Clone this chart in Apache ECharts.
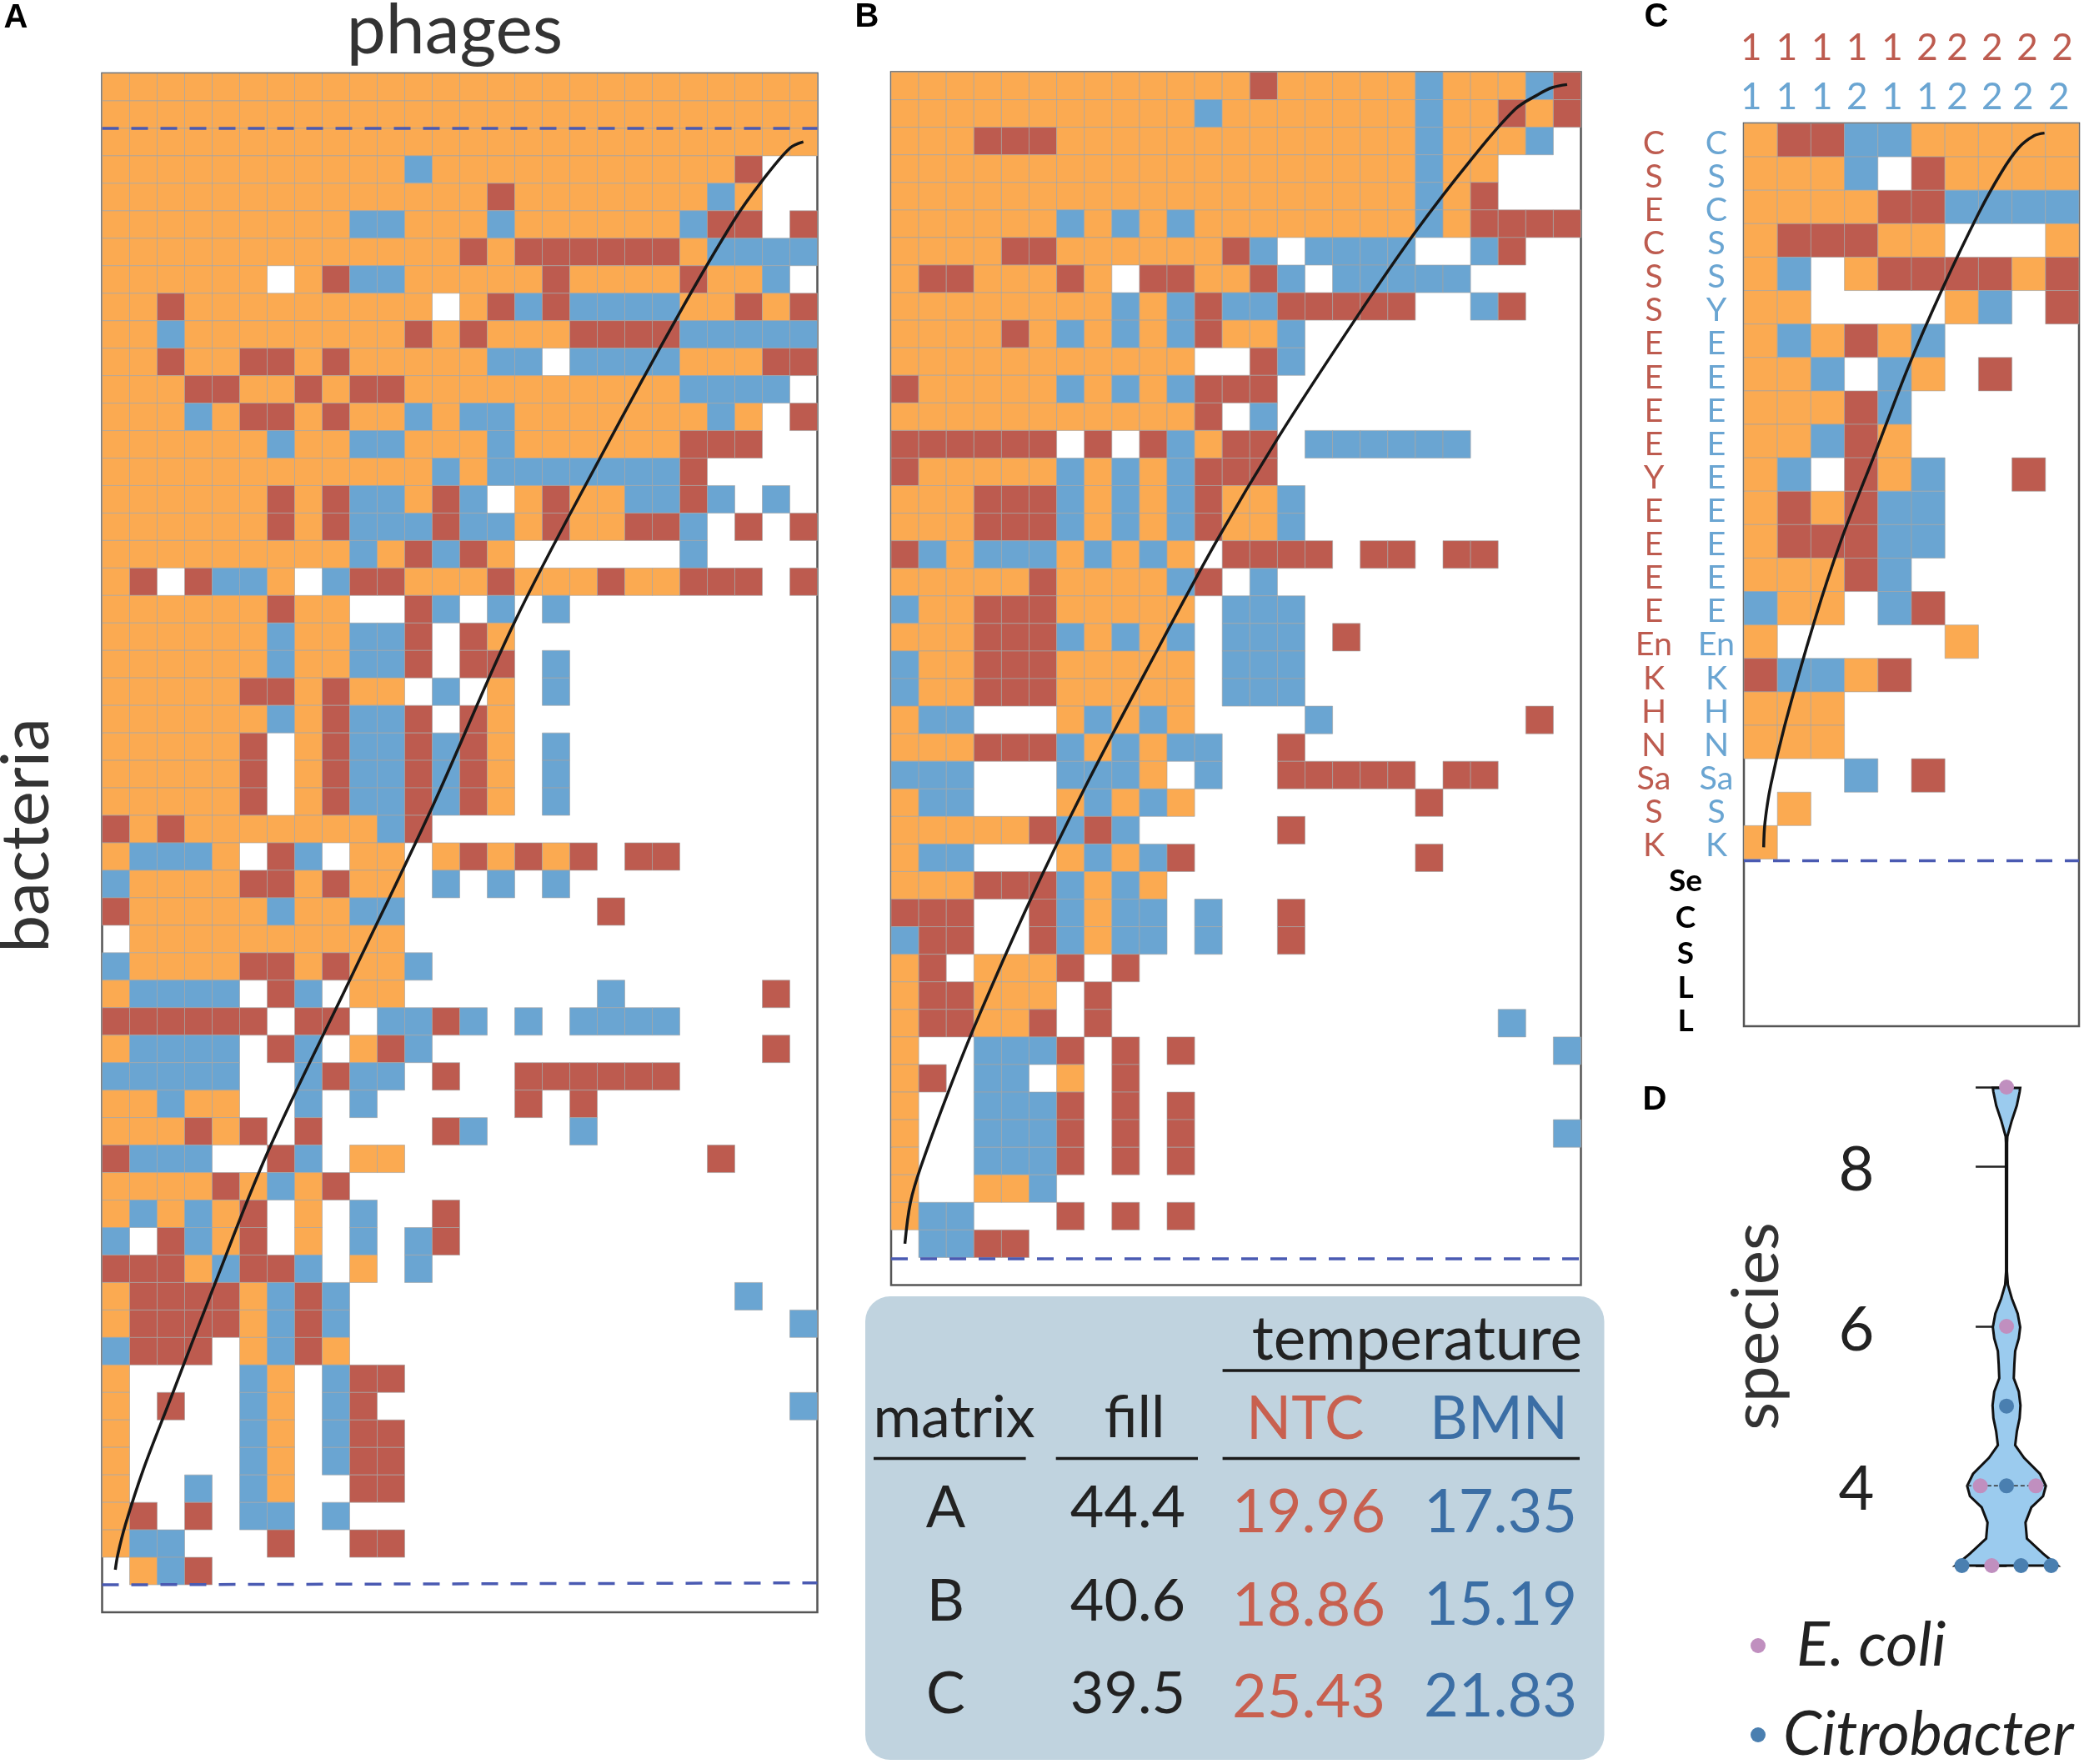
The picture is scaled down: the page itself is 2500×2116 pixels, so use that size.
<!DOCTYPE html>
<html><head><meta charset="utf-8">
<style>html,body{margin:0;padding:0;background:#fff}#c{width:2500px;height:2116px}</style>
<script src="https://cdn.jsdelivr.net/npm/echarts@6/dist/echarts.min.js"></script>
</head><body><div id="c"></div>
<script>
// Cell codes: O orange, R red, B blue, . empty
const matrixA = [
"OOOOOOOOOOOOOOOOOOOOOOOOOO",
"OOOOOOOOOOOOOOOOOOOOOOOOOO",
"OOOOOOOOOOOOOOOOOOOOOOOOOO",
"OOOOOOOOOOOBOOOOOOOOOOOR..",
"OOOOOOOOOOOOOOROOOOOOOBO..",
"OOOOOOOOOBBOOOBOOOOOOBRR.R",
"OOOOOOOOOOOOORORRRRRROBBBB",
"OOOOOO.ORBBOOOOOROOOOROOB.",
"OOROOOOOOOOO.ORBRBBBBOOROR",
"OOBOOOOOOOOROROOORRRRBBBBB",
"OOROORROROOOOOBB.BBBBOOORR",
"OOORROORORROOOOOOOOOOBBBB.",
"OOOBORROROOBOBBOOOOOOOBO.R",
"OOOOOOBOOBBOOOBOOOOOORRR..",
"OOOOOOOOOOOOBOBBBBBBBR....",
"OOOOOORORBBORB.OROOBBRB.B.",
"OOOOOORORBBBRBBOROORRB.R.R",
"OOOOOOOOOBORBRO......B....",
"OR.RBBO.BRROOOROOOROORRR.R",
"OOOOOOROO..RB.B.B.........",
"OOOOOOBOOBBR.RO...........",
"OOOOOOBOOBBR.RR.B.........",
"OOOOORROROO.B.O.B.........",
"OOOOOOBORBBR.RO...........",
"OOOOOR.ORBBRBRO.B.........",
"OOOOOR.ORBBRBRO.B.........",
"OOOOOR.ORBBRBRO.B.........",
"ROROOOOOOOBR..............",
"OBBBO.RB.OO.OROROR.RR.....",
"BOOOORROROO.B.B.B.........",
"ROOOOOBOOBB.......R.......",
".OOOOOOOOOO...............",
"BOOOORROROOB..............",
"OBBBB.RB.OO.......B.....R.",
"RRRRRR.RR.BBRB.B.BBBB.....",
"OBBBB.RB.ORB............R.",
"BBBBB..BRBB.R..RRRRRR.....",
"OOBOO..B.B.....R.R........",
"OOOROR.R....RB...B........",
"RBBB..RB.OO...........R...",
"OOOOROBOR.................",
"OBOBOR.O.B..R.............",
"B.RBOR.O.B.BR.............",
"RRROBRRB.O.B..............",
"ORRRROBRB..............B..",
"ORRRROBRB................B",
"BRRR.OBRO.................",
"O....BO.BRR...............",
"O.R..BO.BR...............B",
"O....BO.BRR...............",
"O....BO.BRR...............",
"O..B.BO..RR...............",
"OR.R.BB.B.................",
"OBB...R..RR...............",
".OBR......................"
];
const matrixB = [
"OOOOOOOOOOOOOROOOOOBOOOBR",
"OOOOOOOOOOOBOOOOOOOBOOROR",
"OOORRROOOOOOOOOOOOOBOOOB.",
"OOOOOOOOOOOOOOOOOOOBOO...",
"OOOOOOOOOOOOOOOOOOOBOR...",
"OOOOOOBOBOBOOOOOOOOBORRRR",
"OOOORROOOOOORB.BBBB..BR..",
"ORROOORO.RROORB.BBBBB....",
"OOOOOOOOBOBRBBRRRRR..BR..",
"OOOOROBOBOBROOB..........",
"OOOOOOOOOOO..RB..........",
"ROOOOOBOBOBRRR...........",
"OOOOOOOOOOOR.B...........",
"RRRRRR.R.RBORR.BBBBBB....",
"ROOOOOBOBOBRRR...........",
"OOORRRBOBOBROOB..........",
"OOORRRBOBOBROOB..........",
"RBOBBBOBOBO.RRRR.RR.RR...",
"OOOOOROOOOBR.B...........",
"BOORRROOOOO.BBB..........",
"OOORRRBOBOB.BBB.R........",
"BOORRROOOOO.BBB..........",
"BOORRROOOOO.BBB..........",
"OBB...OBOBO....B.......R.",
"OOORRRBOBOBB..R..........",
"BBB...BBBO.B..RRRRR.RR...",
"OBB...OBOBO........R.....",
"OOOOORBRB.....R..........",
"OBB...OBOBR........R.....",
"OOORRRBOBO...............",
"RRR..RBOBB.B..R..........",
"BRR..RBOBB.B..R..........",
"OR.OOOR.R................",
"ORROOO.R.................",
"ORROOR.R..............B..",
"O..BBBR.R.R.............B",
"OR.BB.O.R................",
"O..BBBR.R.R..............",
"O..BBBR.R.R.............B",
"O..BBBR.R.R..............",
"O..OOB...................",
"OBB...R.R.R..............",
".BBRR...................."
];
const matrixC = [
"ORRBBOOOOO","OOOB.ROOOO","OOOORRBBBB","ORRROO...O","OB.ORRRROR","OO....OB.R",
"OBOROB....","OOB.BO.R..","OOORB.....","OOBRO.....","OB.ROB..R.","ORORBB....",
"ORRRBB....","OOORB.....","BOO.BR....","O.....O...","RBBOR.....","OOO.......",
"OOO.......","...B.R....",".O........","O........."
];
// Black curves, as [column, row]
const curveA = [[25.49,2.49],[25,2.72],[24,3.9],[23,5.3],[21,8.7],[18.1,14],[15,19.95],[12,26.7],[9,33],[6,39.3],[4,44.3],[2.5,48.2],[1.5,50.8],[0.85,52.8],[0.57,53.9],[0.48,54.45]];
const curveB = [[24.5,0.45],[23.96,0.56],[23.47,0.8],[22.6,1.36],[21,3.2],[19,5.8],[16.8,9],[14,13.3],[11.8,17],[9.2,21.8],[7.05,25.9],[5.06,30],[3.07,34.5],[2.07,37],[1.08,39.7],[0.7,41],[0.5,42.5]];
const curveC = [[8.97,0.29],[8.66,0.37],[8.2,0.73],[7.68,1.47],[7,2.7],[5.9,5],[4.9,7.3],[3.94,9.8],[2.89,12.5],[2.1,14.9],[1.22,18],[0.8,19.8],[0.63,20.9],[0.59,21.65]];
const dashA1 = [[0,2],[26,2]];
const dashA2 = [[0,55],[26,54.93]];
const dashB = [[0,43.05],[25,43.05]];
const dashC = [[0,22.05],[10,22.05]];
// Panel C labels
const rowRed = ["C","S","E","C","S","S","E","E","E","E","Y","E","E","E","E","En","K","H","N","Sa","S","K"];
const rowBlue = ["C","S","C","S","S","Y","E","E","E","E","E","E","E","E","E","En","K","H","N","Sa","S","K"];
const rowBlack = ["Se","C","S","L","L"];
const colRed = ["1","1","1","1","1","2","2","2","2","2"];
const colBlue = ["1","1","1","2","1","1","2","2","2","2"];
// Violin (panel D)
const violinY = [3,3.15,3.34,3.54,3.73,3.87,4,4.15,4.35,4.51,4.68,4.85,5.01,5.18,5.35,5.52,5.69,5.85,5.99,6.16,6.35,6.52,6.69,8.3,8.38,8.58,8.77,8.94,8.99];
const violinHalf = [1.83,1.31,0.73,0.68,0.89,1.31,1.41,1.2,0.63,0.31,0.37,0.47,0.5,0.44,0.26,0.28,0.31,0.44,0.49,0.4,0.19,0.05,0.015,0.02,0.03,0.19,0.37,0.47,0.49];
const ecoliDots = [[0,9],[0,6],[-0.94,4],[1.05,4],[-0.53,3]];
const citroDots = [[0,5],[0,4],[-1.6,3],[0.52,3],[1.6,3]];
// Table
const tableMatrix = ["A","B","C"];
const tableFill = ["44.4","40.6","39.5"];
const tableNTC = ["19.96","18.86","25.43"];
const tableBMN = ["17.35","15.19","21.83"];

const FONT = 'Lato';
const cellColor = {O:'#fbaa51',R:'#bd5b4f',B:'#6aa5d2'};
const RED='#bd5b4f', BLUE='#6aa5d2';
const FRAME='#555555', DASH='#4a5ab2';

function cells(m){const out=[];m.forEach((row,r)=>{for(let c=0;c<row.length;c++){if(row[c]!=='.')out.push([c,r]);}});return out;}
function matrixSeries(m,i){return {type:'custom',xAxisIndex:i,yAxisIndex:i,clip:false,silent:true,z:2,
  encode:{x:0,y:1},
  data:cells(m),
  renderItem:(p,api)=>{const c=api.value(0),r=api.value(1);const a=api.coord([c,r]),b=api.coord([c+1,r+1]);
    const k=m[r][c];
    return {type:'rect',shape:{x:a[0],y:a[1],width:b[0]-a[0],height:b[1]-a[1]},
      style:{fill:cellColor[k],stroke:'rgba(165,165,165,0.65)',lineWidth:1}};}};}
function lineSeries(d,i,style,extra){return Object.assign({type:'line',xAxisIndex:i,yAxisIndex:i,data:d,showSymbol:false,symbol:'none',silent:true,clip:false,z:5,lineStyle:style},extra||{});}
const curveStyle={color:'#161616',width:3.5};
const dashStyle={color:DASH,width:3.5,type:[20,15]};
const hiddenAxis={axisLine:{show:false},axisTick:{show:false},axisLabel:{show:false},splitLine:{show:false}};
const gridBase={show:true,borderColor:FRAME,borderWidth:2.5,backgroundColor:'transparent',containLabel:false,outerBoundsMode:'none'};
const bigName={fontFamily:FONT,fontSize:78,color:'#333333',fontWeight:400};

const option={
 animation:false,backgroundColor:'#fff',
 grid:[
  Object.assign({left:122.5,top:88,width:858,height:1846},gridBase),
  Object.assign({left:1069,top:86.5,width:827.5,height:1455},gridBase),
  Object.assign({left:2092,top:148,width:402,height:1083},gridBase),
  {left:2281.5,top:1304,width:209.25,height:574,show:false,outerBoundsMode:'none'}
 ],
 xAxis:[
  Object.assign({type:'value',gridIndex:0,min:0,max:26,position:'top',name:'phages',nameLocation:'middle',nameGap:9,nameTextStyle:Object.assign({},bigName,{fontSize:84,padding:[0,12,0,0]})},hiddenAxis),
  Object.assign({type:'value',gridIndex:1,min:0,max:25},hiddenAxis),
  Object.assign({type:'value',gridIndex:2,min:0,max:10},hiddenAxis),
  Object.assign({type:'value',gridIndex:3,min:-3.75,max:2.5},hiddenAxis),
  {type:'value',gridIndex:2,min:0,max:10,position:'top',axisLine:{show:false},axisTick:{show:false},splitLine:{show:false},
   axisLabel:{show:true,customValues:[0.22,1.28,2.33,3.38,4.43,5.47,6.37,7.41,8.46,9.5],formatter:v=>colRed[Math.floor(v)],color:RED,fontFamily:FONT,fontSize:44,margin:90,verticalAlign:'middle',align:'center'}},
  {type:'value',gridIndex:2,min:0,max:10,position:'top',axisLine:{show:false},axisTick:{show:false},splitLine:{show:false},
   axisLabel:{show:true,customValues:[0.22,1.28,2.33,3.38,4.43,5.47,6.37,7.41,8.33,9.4],formatter:v=>colBlue[Math.floor(v)],color:BLUE,fontFamily:FONT,fontSize:44,margin:31,verticalAlign:'middle',align:'center'}}
 ],
 yAxis:[
  Object.assign({type:'value',gridIndex:0,min:0,max:56,inverse:true,name:'bacteria',nameLocation:'middle',nameRotate:90,nameGap:50,nameTextStyle:Object.assign({},bigName,{fontSize:80,padding:[0,0,0,18]})},hiddenAxis),
  Object.assign({type:'value',gridIndex:1,min:0,max:44,inverse:true},hiddenAxis),
  Object.assign({type:'value',gridIndex:2,min:0,max:27,inverse:true},hiddenAxis),
  {type:'value',gridIndex:3,min:3,max:9,
   name:'species',nameLocation:'middle',nameRotate:90,nameGap:135,nameTextStyle:bigName,
   axisLine:{show:true,lineStyle:{color:'#222',width:2.5}},
   axisTick:{show:true,length:37,customValues:[3,4,6,8,9],lineStyle:{color:'#222',width:2.5}},
   axisLabel:{show:true,customValues:[3.95,5.95,7.95],margin:33,color:'#222',fontFamily:FONT,fontSize:74,formatter:v=>String(Math.round(v))},
   splitLine:{show:false}},
  {type:'value',gridIndex:2,min:0,max:27,inverse:true,position:'left',axisLine:{show:false},axisTick:{show:false},splitLine:{show:false},
   axisLabel:{show:true,customValues:rowBlue.map((_,i)=>i+0.6),formatter:v=>rowBlue[Math.floor(v)],color:BLUE,fontFamily:FONT,fontSize:39.5,margin:33,align:'center',verticalAlign:'middle'}},
  {type:'value',gridIndex:2,min:0,max:27,inverse:true,position:'left',axisLine:{show:false},axisTick:{show:false},splitLine:{show:false},
   axisLabel:{show:true,customValues:rowRed.map((_,i)=>i+0.6),formatter:v=>rowRed[Math.floor(v)],color:RED,fontFamily:FONT,fontSize:39.5,margin:108,align:'center',verticalAlign:'middle'}},
  {type:'value',gridIndex:2,min:0,max:27,inverse:true,position:'left',axisLine:{show:false},axisTick:{show:false},splitLine:{show:false},
   axisLabel:{show:true,customValues:[22.67,23.77,24.84,25.86,26.85],formatter:v=>rowBlack[Math.round(v-22.8)],color:'#000',fontFamily:FONT,fontSize:37,fontWeight:'bold',margin:70,align:'center',verticalAlign:'middle'}}
 ],
 legend:[
  {data:[{name:'E. coli',icon:'circle'}],left:2100,top:1937,itemWidth:18,itemHeight:18,padding:0,
   textStyle:{fontFamily:FONT,fontStyle:'italic',fontSize:74,color:'#222',padding:[0,0,0,32]}},
  {data:[{name:'Citrobacter',icon:'circle'}],left:2100,top:2044,itemWidth:18,itemHeight:18,padding:0,
   textStyle:{fontFamily:FONT,fontStyle:'italic',fontSize:74,color:'#222',padding:[0,0,0,16]}}
 ],
 series:[
  matrixSeries(matrixA,0),matrixSeries(matrixB,1),matrixSeries(matrixC,2),
  lineSeries(curveA,0,curveStyle,{smooth:0.35}),lineSeries(curveB,1,curveStyle,{smooth:0.35}),lineSeries(curveC,2,curveStyle,{smooth:0.35}),
  lineSeries(dashA1,0,dashStyle),lineSeries(dashA2,0,dashStyle),lineSeries(dashB,1,dashStyle),lineSeries(dashC,2,dashStyle),
  {type:'custom',xAxisIndex:3,yAxisIndex:3,silent:true,clip:false,z:2,data:[[0,3]],encode:{x:0,y:1},
   renderItem:(p,api)=>{
     const right=violinY.map((y,i)=>api.coord([violinHalf[i],y]));
     const left=violinY.map((y,i)=>api.coord([-violinHalf[i],y])).reverse();
     return {type:'polygon',shape:{points:right.concat(left)},style:{fill:'#9bcbee',stroke:'#111',lineWidth:3}};}},
  {type:'line',name:'level4',xAxisIndex:3,yAxisIndex:3,data:[[-1.41,4],[1.41,4]],showSymbol:false,symbol:'none',silent:true,z:3,lineStyle:{color:'#333',width:1.5,type:[5,3]}},
  {type:'scatter',name:'E. coli',xAxisIndex:3,yAxisIndex:3,data:ecoliDots,symbolSize:18,silent:true,z:4,clip:false,itemStyle:{color:'#c08fbf',opacity:1}},
  {type:'scatter',name:'Citrobacter',xAxisIndex:3,yAxisIndex:3,data:citroDots,symbolSize:18,silent:true,z:4,clip:false,itemStyle:{color:'#4a7fb0',opacity:1}}
 ],
 graphic:{elements:(function(){
   const T=(text,x,y,size,color,opt)=>({type:'text',x:x,y:y,z:10,style:Object.assign({text:text,fill:color,font:`${size}px ${FONT}`,textAlign:'center',textVerticalAlign:'middle'},opt||{})});
   const L=(x1,x2,y)=>({type:'line',z:9,shape:{x1:x1,y1:y,x2:x2,y2:y},style:{stroke:'#1a1a1a',lineWidth:3.5}});
   const dark='#222', ntc='#c8604f', bmn='#3b6ea5';
   const els=[
     {type:'rect',z:0,shape:{x:1038,y:1555,width:886.5,height:556,r:30},style:{fill:'#c0d3df'}},
     T('A',19,22,0,'#000',{font:'bold 40px "Liberation Sans"'}),
     T('B',1040,21,0,'#000',{font:'bold 40px "Liberation Sans"'}),
     T('C',1987,21,0,'#000',{font:'bold 40px "Liberation Sans"'}),
     T('D',1985,1320,0,'#000',{font:'bold 40px "Liberation Sans"'}),
     T('temperature',1700,1607,73,dark),
     T('matrix',1144.6,1701,70,dark),
     T('fill',1361,1701,70,dark),
     T('NTC',1565.7,1703,71,ntc),
     T('BMN',1798,1703,71,bmn),
     L(1466.6,1895,1644),L(1048,1230.6,1749.4),L(1266.7,1437,1749.4),L(1466.6,1895,1749.4)
   ];
   const ys=[[1809,1815,1815],[1921,1927,1926],[2032,2037,2036]];
   tableMatrix.forEach((m,i)=>{
     els.push(T(m,1134.5,ys[i][0],70,dark),T(tableFill[i],1353,ys[i][0],70,dark),T(tableNTC[i],1570,ys[i][1],72,ntc),T(tableBMN[i],1800,ys[i][2],72,bmn));
   });
   return els;
 })()}
};
const chart=echarts.init(document.getElementById('c'),null,{width:2500,height:2116,renderer:'canvas'});
chart.setOption(option);
</script>
</body></html>
